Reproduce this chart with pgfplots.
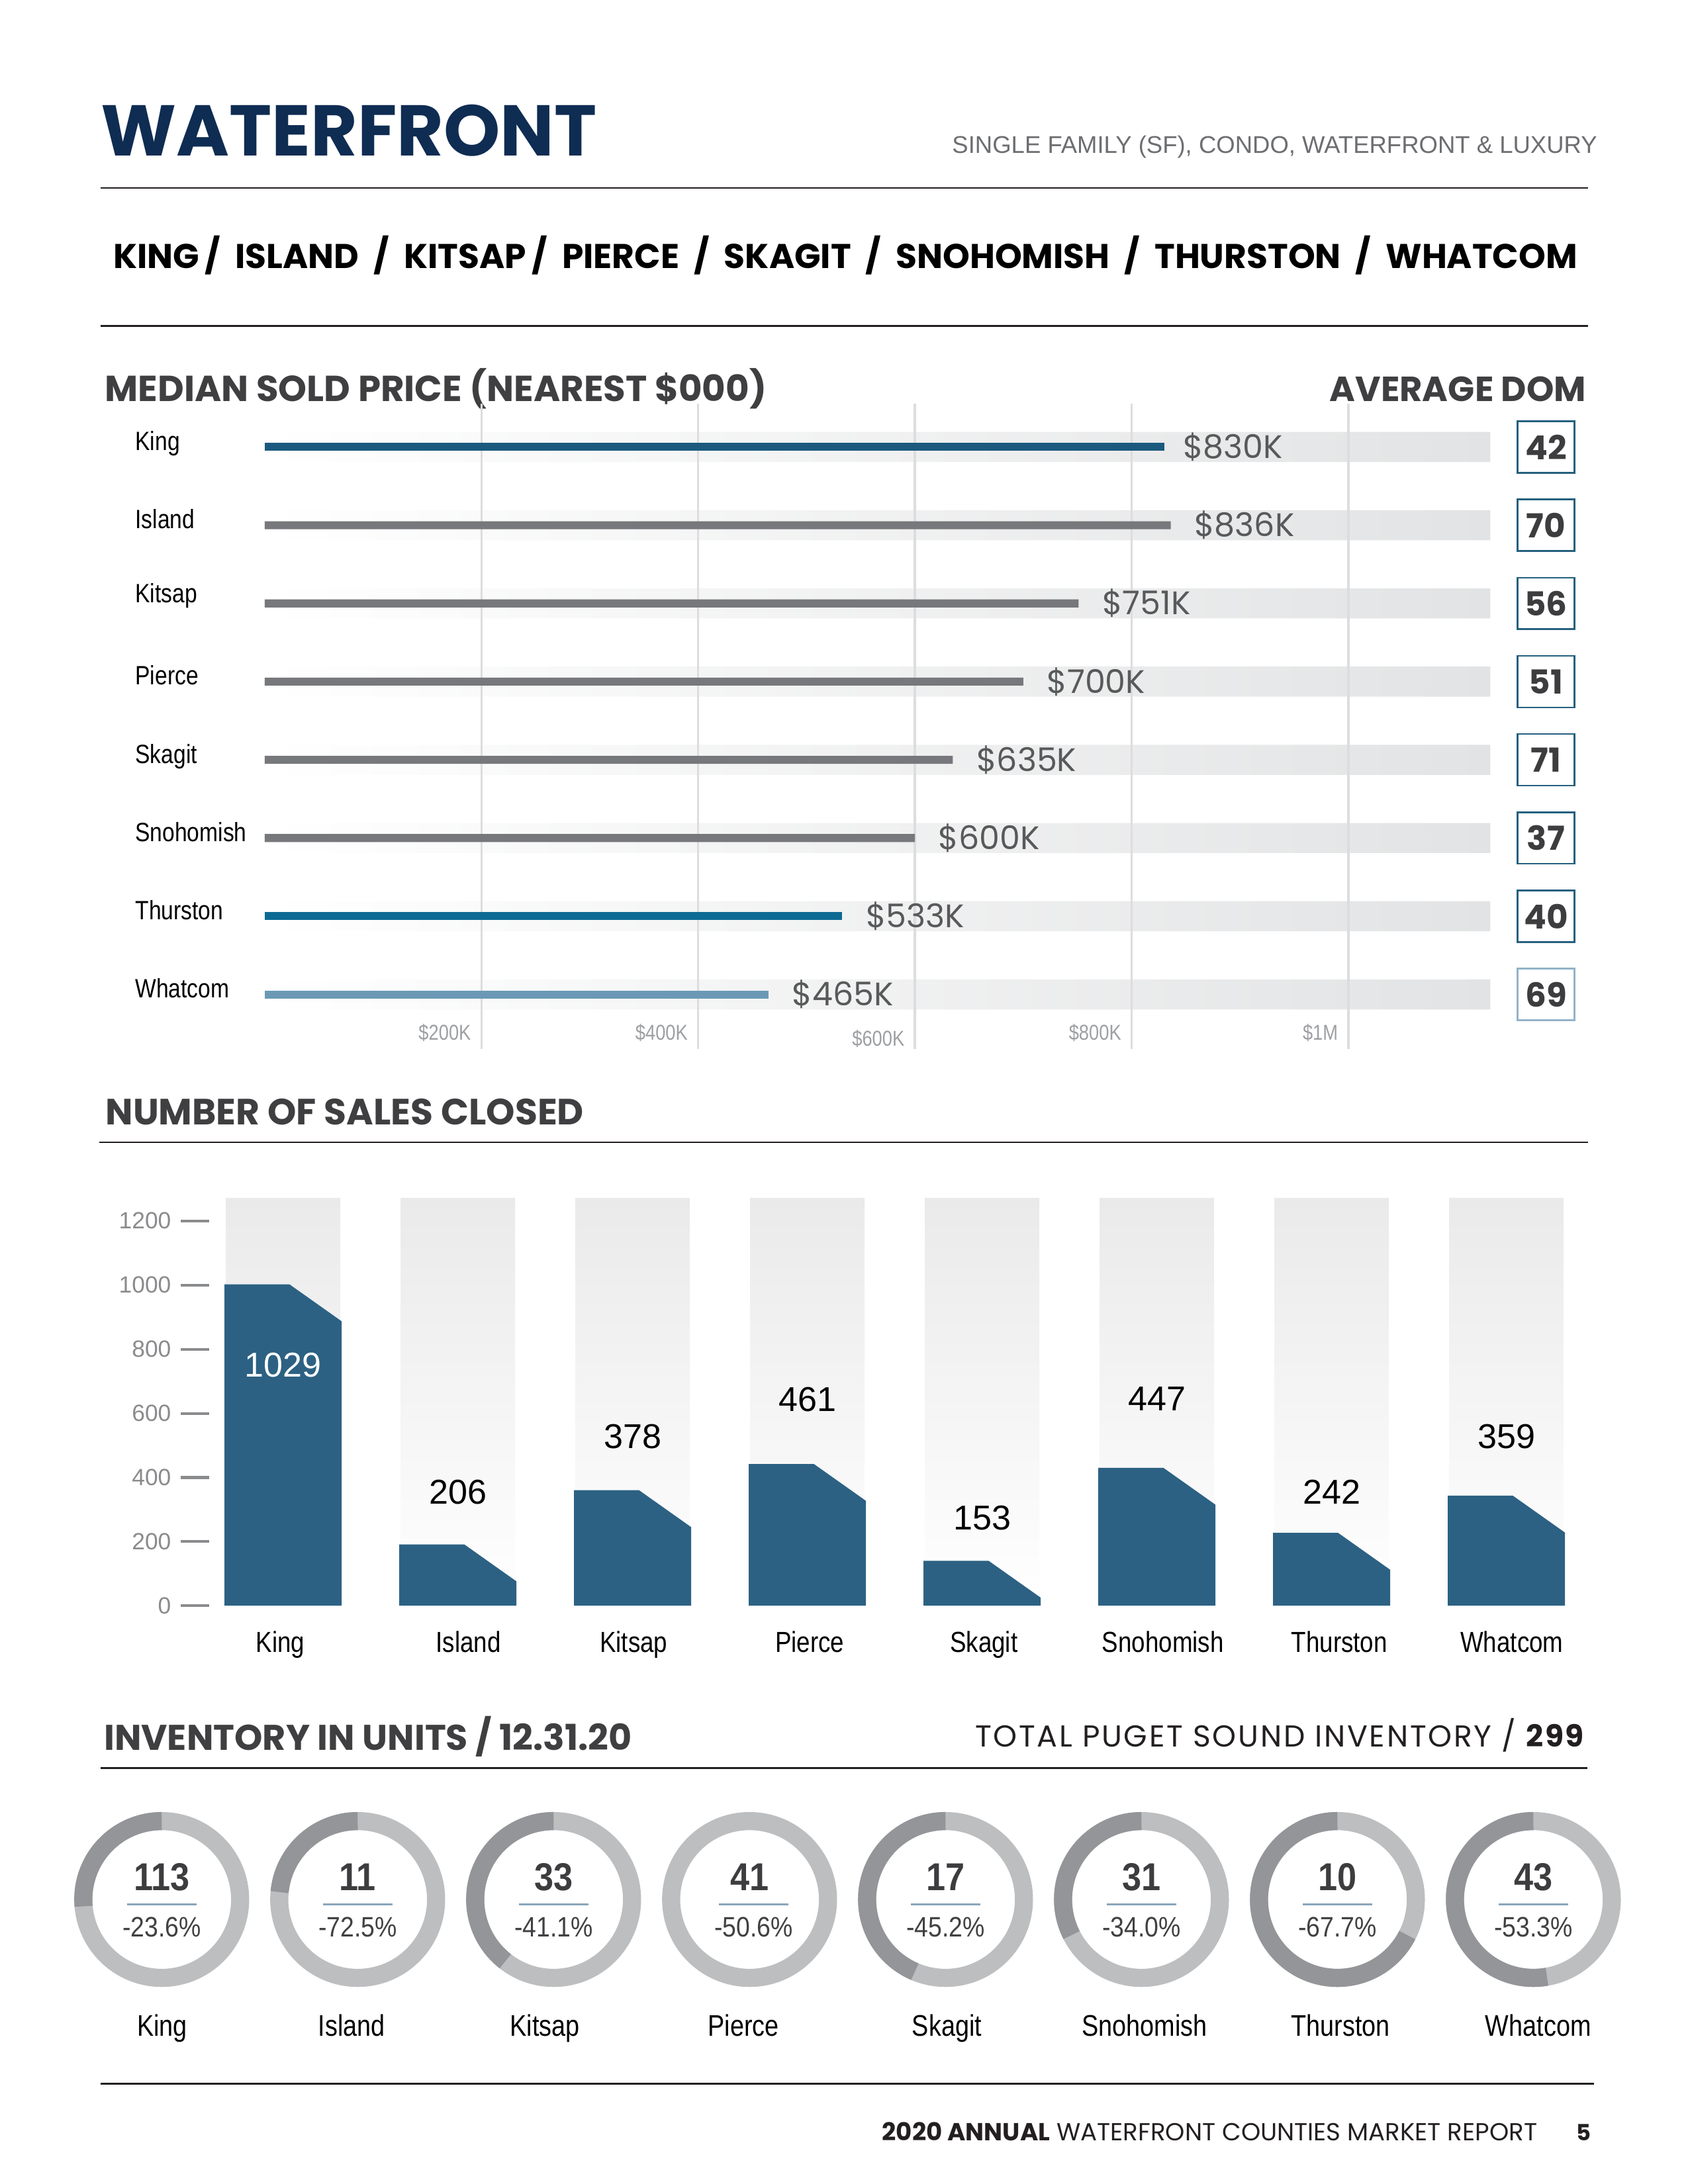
\documentclass[border=0pt]{standalone}
\usepackage{fontspec}
\usepackage{graphicx}
\usepackage{pgfplots}
\pgfplotsset{compat=1.18}
\setmainfont{Liberation Sans}
\newfontfamily\pop{Poppins}
\newfontfamily\cond[FakeStretch=0.84]{Liberation Sans}
\newfontfamily\semicond[FakeStretch=0.88]{Liberation Sans}
\newfontfamily\boldcond[FakeStretch=0.89]{Liberation Sans}
\definecolor{navy}{HTML}{0F2C52}
\definecolor{subgray}{HTML}{6D6E71}
\definecolor{headgray}{HTML}{3F3F41}
\definecolor{rulec}{HTML}{231F20}
\definecolor{kingblue}{HTML}{1B5A7E}
\definecolor{thurblue}{HTML}{0D6A93}
\definecolor{whatblue}{HTML}{6B99B5}
\definecolor{bargray}{HTML}{77787B}
\definecolor{trackgray}{HTML}{E2E3E4}
\definecolor{gridgray}{HTML}{DCDDDE}
\definecolor{tickgray}{HTML}{9D9FA2}
\definecolor{valgray}{HTML}{58595B}
\definecolor{domblue}{HTML}{25607F}
\definecolor{domlight}{HTML}{92B3C8}
\definecolor{domtext}{HTML}{3D3D3F}
\definecolor{salesblue}{HTML}{2C6183}
\definecolor{colgray}{HTML}{EAEAEB}
\definecolor{axgray}{HTML}{8A8B8D}
\definecolor{ringdark}{HTML}{939598}
\definecolor{ringlight}{HTML}{BCBEC0}
\definecolor{numgray}{HTML}{3D3D3F}
\definecolor{pctgray}{HTML}{414042}
\definecolor{divblue}{HTML}{8AA5BB}
\begin{document}
\begin{tikzpicture}
\path[use as bounding box] (0,0) rectangle (612bp,-792bp);
\begin{scope}[x=0.505bp,y=-0.505bp]
% header
\node[anchor=base west, inner sep=0, text=navy] at (72,112) {\resizebox{179.8bp}{!}{\pop\bfseries WATERFRONT}};
\node[anchor=base east, inner sep=0, text=subgray] at (1147,110) {\resizebox{233.8bp}{!}{SINGLE FAMILY (SF), CONDO, WATERFRONT \& LUXURY}};
\draw[rulec, line width=0.6bp] (72,135)--(1140,135);
\node[anchor=base west, inner sep=0, text=black] at (81,192.5) {\resizebox{530.8bp}{!}{\pop\bfseries KING\,/\ \ ISLAND\ \ /\ \ KITSAP\,/\ \ PIERCE\ \ /\ \ SKAGIT\ \ /\ \ SNOHOMISH\ \ /\ \ THURSTON\ \ /\ \ WHATCOM}};
\draw[rulec, line width=0.6bp] (72,234)--(1140,234);
\node[anchor=base west, inner sep=0, text=headgray] at (75,288) {\resizebox{239.9bp}{!}{\pop\bfseries MEDIAN SOLD PRICE (NEAREST \$000)}};
\node[anchor=base east, inner sep=0, text=headgray] at (1139,288) {\resizebox{92.9bp}{!}{\pop\bfseries AVERAGE DOM}};
\node[anchor=base west, inner sep=0, text=headgray] at (75.4,807.7) {\resizebox{173.4bp}{!}{\pop\bfseries NUMBER OF SALES CLOSED}};
\draw[rulec, line width=0.6bp] (71.2,820.3)--(1140,820.3);
\node[anchor=base west, inner sep=0, text=headgray] at (74.3,1256.6) {\resizebox{191.4bp}{!}{\pop\bfseries INVENTORY IN UNITS / 12.31.20}};
\node[anchor=base east, inner sep=0, text=rulec] at (1137.7,1254.4) {\resizebox{220.8bp}{!}{\pop\addfontfeature{LetterSpace=6}TOTAL PUGET SOUND INVENTORY / \bfseries 299}};
\draw[rulec, line width=0.6bp] (72,1269.7)--(1139.6,1269.7);
\draw[rulec, line width=0.6bp] (72,1496.4)--(1144.5,1496.4);
\node[anchor=base east, inner sep=0, text=rulec] at (1104,1537) {\resizebox{237.5bp}{!}{\pop{\bfseries 2020 ANNUAL} WATERFRONT COUNTIES MARKET REPORT}};
\node[anchor=base east, inner sep=0, text=rulec] at (1142.6,1537) {\pop\bfseries\fontsize{8.1bp}{9bp}\selectfont 5};
\end{scope}

% ---------------- median sold price ----------------
\begin{axis}[
  at={(95.95bp,-380.47bp)}, anchor=south west,
  scale only axis, width=444.4bp, height=233.97bp,
  xmin=0, xmax=1131, ymin=0.3, ymax=8.55,
  clip=false, axis line style={draw=none}, major tick length=0pt,
  xtick={200,400,600,800,1000},
  xticklabels={\$200K,\$400K,\raisebox{-2bp}{\$600K},\$800K,\$1M},
  xticklabel style={font=\cond\fontsize{7.8bp}{8bp}\selectfont, text=tickgray, anchor=base east, inner sep=0pt, xshift=-3.6bp, yshift=3.2bp},
  ytick={1,2,3,4,5,6,7,8},
  yticklabels={Whatcom,Thurston,Snohomish,Skagit,Pierce,\raisebox{1.5bp}{Kitsap},Island,King},
  yticklabel style={font=\cond\fontsize{9.6bp}{10bp}\selectfont, text=black, anchor=base west, inner sep=0pt, xshift=-47.07bp, yshift=-1.2bp},
]
\addplot[xbar, bar width=10.9bp, bar shift=0pt, draw=none, left color=white, right color=trackgray]
  coordinates {(1131,1) (1131,2) (1131,3) (1131,4) (1131,5) (1131,6) (1131,7) (1131,8)};
\draw[gridgray, line width=0.8bp] (axis cs:200,0.3) -- (axis cs:200,8.55);
\draw[gridgray, line width=0.8bp] (axis cs:400,0.3) -- (axis cs:400,8.55);
\draw[gridgray, line width=0.8bp] (axis cs:600,0.3) -- (axis cs:600,8.55);
\draw[gridgray, line width=0.8bp] (axis cs:800,0.3) -- (axis cs:800,8.55);
\draw[gridgray, line width=0.8bp] (axis cs:1000,0.3) -- (axis cs:1000,8.55);
\addplot[xbar, bar width=2.9bp, bar shift=0pt, draw=none, fill=kingblue] coordinates {(830,8)};
\addplot[xbar, bar width=2.9bp, bar shift=0pt, draw=none, fill=bargray] coordinates {(836,7) (751,6) (700,5) (635,4) (600,3)};
\addplot[xbar, bar width=2.9bp, bar shift=0pt, draw=none, fill=thurblue] coordinates {(533,2)};
\addplot[xbar, bar width=2.9bp, bar shift=0pt, draw=none, fill=whatblue] coordinates {(465,1)};
\begin{scope}[every node/.style={anchor=west, inner sep=0pt, text=valgray, font=\pop\fontsize{11.8bp}{12bp}\selectfont}]
\node[xshift=6.6bp] at (axis cs:830,8) {\$830K};
\node[xshift=8.4bp] at (axis cs:836,7) {\$836K};
\node[xshift=8.4bp] at (axis cs:751,6) {\$751K};
\node[xshift=8.4bp] at (axis cs:700,5) {\$700K};
\node[xshift=8.4bp] at (axis cs:635,4) {\$635K};
\node[xshift=8.4bp] at (axis cs:600,3) {\$600K};
\node[xshift=8.4bp] at (axis cs:533,2) {\$533K};
\node[xshift=8.4bp] at (axis cs:465,1) {\$465K};
\end{scope}
\begin{scope}[every node/.style={draw=domblue, line width=0.6bp, minimum width=20.6bp, minimum height=18.7bp, inner sep=0pt, text=domtext, font=\pop\bfseries\fontsize{12bp}{12bp}\selectfont}]
\node at (axis cs:1182.3,8) {42};
\node at (axis cs:1182.3,7) {70};
\node at (axis cs:1182.3,6) {56};
\node at (axis cs:1182.3,5) {51};
\node at (axis cs:1182.3,4) {71};
\node at (axis cs:1182.3,3) {37};
\node at (axis cs:1182.3,2) {40};
\node[draw=domlight] at (axis cs:1182.3,1) {69};
\end{scope}
\end{axis}

% ---------------- number of sales closed ----------------
\begin{axis}[
  at={(70.95bp,-582.27bp)}, anchor=south west,
  scale only axis, width=506.9bp, height=147.9bp,
  xmin=-0.5, xmax=7.5, ymin=0, ymax=1272,
  clip=false, axis line style={draw=none}, major tick length=0pt,
  ytick={0,200,400,600,800,1000,1200},
  /pgf/number format/assume math mode=true,
  /pgf/number format/set thousands separator={},
  yticklabel={\pgfmathprintnumber{\tick}\hspace{3.53bp}{\color{axgray}\rule[2.4bp]{10.35bp}{1bp}}},
  yticklabel style={font=\fontsize{8.5bp}{9bp}\selectfont, text=axgray, anchor=east, inner sep=0pt, xshift=5.15bp},
  xtick={-0.016,1.061,2.006,3.014,4.010,5.035,6.044,7.031},
  xticklabels={King,Island,Kitsap,Pierce,Skagit,Snohomish,Thurston,Whatcom},
  xticklabel style={font=\cond\fontsize{10.5bp}{11bp}\selectfont, text=black, anchor=base, inner sep=0pt, yshift=-16.87bp},
]
\addplot[ybar, bar width=0.655, bar shift=0, draw=none, top color=colgray, bottom color=white]
  coordinates {(0,1272) (1,1272) (2,1272) (3,1272) (4,1272) (5,1272) (6,1272) (7,1272)};
\addplot[fill=salesblue, draw=none] coordinates {(-0.335,0) (-0.335,1002) (0.037,1002) (0.335,887) (0.335,0)} \closedcycle;
\addplot[fill=salesblue, draw=none] coordinates {(0.665,0) (0.665,191) (1.037,191) (1.335,76) (1.335,0)} \closedcycle;
\addplot[fill=salesblue, draw=none] coordinates {(1.665,0) (1.665,360) (2.037,360) (2.335,245) (2.335,0)} \closedcycle;
\addplot[fill=salesblue, draw=none] coordinates {(2.665,0) (2.665,442) (3.037,442) (3.335,327) (3.335,0)} \closedcycle;
\addplot[fill=salesblue, draw=none] coordinates {(3.665,0) (3.665,140) (4.037,140) (4.335,25) (4.335,0)} \closedcycle;
\addplot[fill=salesblue, draw=none] coordinates {(4.665,0) (4.665,430) (5.037,430) (5.335,315) (5.335,0)} \closedcycle;
\addplot[fill=salesblue, draw=none] coordinates {(5.665,0) (5.665,227) (6.037,227) (6.335,112) (6.335,0)} \closedcycle;
\addplot[fill=salesblue, draw=none] coordinates {(6.665,0) (6.665,343) (7.037,343) (7.335,228) (7.335,0)} \closedcycle;
\begin{scope}[every node/.style={anchor=center, inner sep=0pt, text=black, font=\fontsize{12.5bp}{13bp}\selectfont}]
\node[text=white] at (axis cs:0,751) {1029};
\node at (axis cs:1,355) {206};
\node at (axis cs:2,528) {378};
\node at (axis cs:3,644) {461};
\node at (axis cs:4,274) {153};
\node at (axis cs:5,646) {447};
\node at (axis cs:6,355) {242};
\node at (axis cs:7,528) {359};
\end{scope}
\end{axis}

% ---------------- inventory donuts ----------------
\begin{axis}[
  at={(23.11bp,-724.17bp)}, anchor=south west,
  scale only axis, width=568.35bp, height=70.7bp,
  xmin=-0.5, xmax=7.5, ymin=-1, ymax=1,
  hide axis, clip=false,
]
\addplot[draw=none, mark=none] coordinates {(0,0) (7,0)};
\begin{scope}[line width=6.57bp]
\draw[ringlight] (axis cs:0,0) circle[radius=28.43bp];
\draw[ringlight] (axis cs:1,0) circle[radius=28.43bp];
\draw[ringlight] (axis cs:2,0) circle[radius=28.43bp];
\draw[ringlight] (axis cs:3,0) circle[radius=28.43bp];
\draw[ringlight] (axis cs:4,0) circle[radius=28.43bp];
\draw[ringlight] (axis cs:5,0) circle[radius=28.43bp];
\draw[ringlight] (axis cs:6,0) circle[radius=28.43bp];
\draw[ringlight] (axis cs:7,0) circle[radius=28.43bp];
\draw[ringdark] (axis cs:0,0) ++(90:28.43bp) arc[start angle=90, delta angle=95, radius=28.43bp];
\draw[ringdark] (axis cs:1,0) ++(90:28.43bp) arc[start angle=90, delta angle=84.6, radius=28.43bp];
\draw[ringdark] (axis cs:2,0) ++(90:28.43bp) arc[start angle=90, delta angle=142, radius=28.43bp];
\draw[ringdark] (axis cs:4,0) ++(90:28.43bp) arc[start angle=90, delta angle=157, radius=28.43bp];
\draw[ringdark] (axis cs:5,0) ++(90:28.43bp) arc[start angle=90, delta angle=117, radius=28.43bp];
\draw[ringdark] (axis cs:6,0) ++(90:28.43bp) arc[start angle=90, delta angle=243, radius=28.43bp];
\draw[ringdark] (axis cs:7,0) ++(90:28.43bp) arc[start angle=90, delta angle=190, radius=28.43bp];
\end{scope}
\begin{scope}[every node/.style={anchor=center, inner sep=0pt, text=numgray, font=\boldcond\bfseries\fontsize{14.1bp}{15bp}\selectfont}]
\node at (axis cs:0,0.2286) {113};
\node at (axis cs:1,0.2286) {11};
\node at (axis cs:2,0.2286) {33};
\node at (axis cs:3,0.2286) {41};
\node at (axis cs:4,0.2286) {17};
\node at (axis cs:5,0.2286) {31};
\node at (axis cs:6,0.2286) {10};
\node at (axis cs:7,0.2286) {43};
\end{scope}
\begin{scope}[divblue, line width=0.6bp]
\draw (axis cs:-0.178,-0.0486) -- (axis cs:0.178,-0.0486);
\draw (axis cs:0.822,-0.0486) -- (axis cs:1.178,-0.0486);
\draw (axis cs:1.822,-0.0486) -- (axis cs:2.178,-0.0486);
\draw (axis cs:2.842,-0.0486) -- (axis cs:3.198,-0.0486);
\draw (axis cs:3.822,-0.0486) -- (axis cs:4.178,-0.0486);
\draw (axis cs:4.822,-0.0486) -- (axis cs:5.178,-0.0486);
\draw (axis cs:5.822,-0.0486) -- (axis cs:6.178,-0.0486);
\draw (axis cs:6.822,-0.0486) -- (axis cs:7.178,-0.0486);
\end{scope}
\begin{scope}[every node/.style={anchor=center, inner sep=0pt, text=pctgray, font=\semicond\fontsize{10.2bp}{11bp}\selectfont}]
\node at (axis cs:0,-0.2857) {-23.6\%};
\node at (axis cs:1,-0.2857) {-72.5\%};
\node at (axis cs:2,-0.2857) {-41.1\%};
\node at (axis cs:3.02,-0.2857) {-50.6\%};
\node at (axis cs:4,-0.2857) {-45.2\%};
\node at (axis cs:5,-0.2857) {-34.0\%};
\node at (axis cs:6,-0.2857) {-67.7\%};
\node at (axis cs:7,-0.2857) {-53.3\%};
\end{scope}
\begin{scope}[every node/.style={anchor=base, inner sep=0pt, text=black, font=\cond\fontsize{10.8bp}{11bp}\selectfont}]
\node at (axis cs:0.003,-1.4) {King};
\node at (axis cs:0.969,-1.4) {Island};
\node at (axis cs:1.955,-1.4) {Kitsap};
\node at (axis cs:2.969,-1.4) {Pierce};
\node at (axis cs:4.007,-1.4) {Skagit};
\node at (axis cs:5.016,-1.4) {Snohomish};
\node at (axis cs:6.017,-1.4) {Thurston};
\node at (axis cs:7.025,-1.4) {Whatcom};
\end{scope}
\end{axis}
\end{tikzpicture}
\end{document}
